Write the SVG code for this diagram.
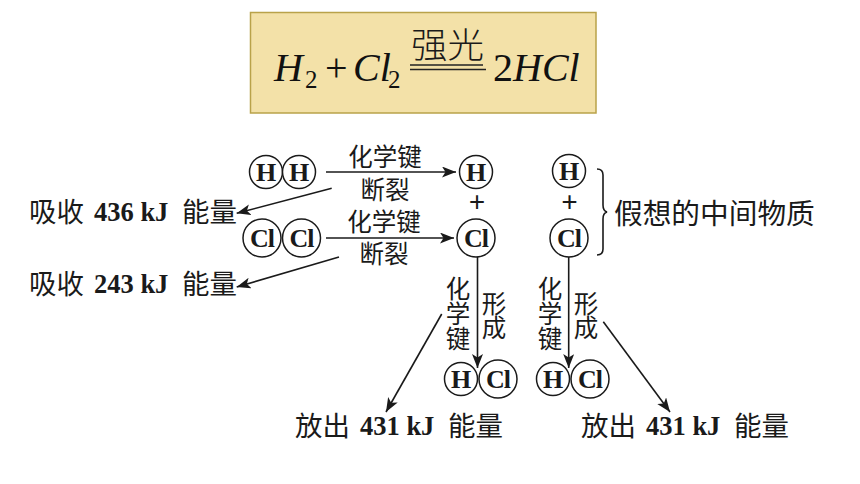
<svg xmlns="http://www.w3.org/2000/svg" width="860" height="484" viewBox="0 0 860 484">
<style>
.a{fill:none;stroke:#1a1a1a;stroke-width:1.6}
.c{fill:#fff;stroke:#1a1a1a;stroke-width:1.5}
.l{font-family:"Liberation Serif",serif;font-weight:bold;fill:#1a1a1a;text-anchor:middle}
.at{font-size:26px}
.cl{letter-spacing:-1px}
.pl{font-size:29px}
.z{font-family:"Noto Sans CJK SC",sans-serif;fill:#1a1a1a}
.s{font-size:24.500px;text-anchor:middle}
.b{font-size:27.500px}
.n{font-family:"Liberation Serif",serif;font-weight:bold;font-size:26.500px;fill:#1a1a1a}
.f{font-family:"Liberation Serif",serif;font-size:40px;fill:#111}
.i{font-style:italic}
.u{font-size:25px}
</style>
<defs><marker id="h" markerUnits="userSpaceOnUse" markerWidth="15" markerHeight="12" refX="14" refY="5.5" orient="auto"><path d="M0 0L14 5.5L0 11L3.5 5.5Z" fill="#1a1a1a"/></marker></defs>
<rect width="860" height="484" fill="#fff"/>
<g id="equation">
<rect x="250.5" y="12.5" width="345.500" height="100.500" fill="#f3e1a8" stroke="#b9a24a" stroke-width="1.500"/>
<text class="f i" x="274" y="81">H</text><text class="f u" x="305" y="88">2</text>
<text class="f" x="325" y="81">+</text><text class="f i" x="353" y="81">Cl</text><text class="f u" x="388" y="88">2</text>
<text class="z" x="411" y="58" font-size="35" font-weight="300" fill="#333" textLength="73" lengthAdjust="spacingAndGlyphs">强光</text>
<path d="M410 65H483M410 69.500H486" stroke="#222" stroke-width="1.600" fill="none"/>
<text class="f" x="493" y="81">2</text><text class="f i" x="513" y="81">HCl</text>
</g>
<g id="connectors">
<path class="a" marker-end="url(#h)" d="M326 172H456"/>
<path class="a" marker-end="url(#h)" d="M331.700 188.300L236.700 213.300"/>
<path class="a" marker-end="url(#h)" d="M326 238H454"/>
<path class="a" marker-end="url(#h)" d="M339 257L236.700 287"/>
<path class="a" marker-end="url(#h)" d="M477.500 257V368"/>
<path class="a" marker-end="url(#h)" d="M568.700 257V368"/>
<path class="a" marker-end="url(#h)" d="M441.700 314L386 412"/>
<path class="a" marker-end="url(#h)" d="M603.300 321.700L670 412"/>
<path class="a" d="M597 169Q603 169 603 175V205Q603 211 607 212Q603 213 603 219V249Q603 255 597 255"/>
</g>
<g id="h2"><circle class="c" cx="266" cy="172" r="16.500"/><circle class="c" cx="299" cy="172" r="16.500"/><text class="l at" x="266" y="181">H</text><text class="l at" x="299" y="181">H</text></g>
<g id="h-atom"><circle class="c" cx="476" cy="172" r="16.500"/><text class="l at" x="476" y="181">H</text></g>
<g id="cl2"><circle class="c" cx="262" cy="238" r="19"/><circle class="c" cx="301.500" cy="238" r="19"/><text class="l at cl" x="262" y="247">Cl</text><text class="l at cl" x="301.500" y="247">Cl</text></g>
<g id="cl-atom"><circle class="c" cx="476" cy="238" r="19"/><text class="l at cl" x="476" y="247">Cl</text></g>
<g id="plus1"><text class="l pl" x="477" y="212">+</text></g>
<g id="h-mid"><circle class="c" cx="569" cy="171" r="16.500"/><text class="l at" x="569" y="180">H</text></g>
<g id="plus2"><text class="l pl" x="569.500" y="212">+</text></g>
<g id="cl-mid"><circle class="c" cx="569" cy="238" r="19"/><text class="l at cl" x="569" y="247">Cl</text></g>
<g id="hcl1"><circle class="c" cx="461" cy="379" r="16.500"/><circle class="c" cx="498" cy="379" r="19"/><text class="l at" x="461" y="388">H</text><text class="l at cl" x="498" y="388">Cl</text></g>
<g id="hcl2"><circle class="c" cx="553" cy="379" r="16.500"/><circle class="c" cx="590" cy="379" r="19"/><text class="l at" x="553" y="388">H</text><text class="l at cl" x="590" y="388">Cl</text></g>
<g id="labels">
<text class="z s" x="385" y="166">化学键</text><text class="z s" x="385" y="199">断裂</text>
<text class="z s" x="384" y="231">化学键</text><text class="z s" x="384" y="263">断裂</text>
<text class="z s"><tspan x="458" y="298">化</tspan><tspan x="458" y="323">学</tspan><tspan x="458" y="348">键</tspan></text>
<text class="z s"><tspan x="494" y="313">形</tspan><tspan x="494" y="337">成</tspan></text>
<text class="z s"><tspan x="550" y="298">化</tspan><tspan x="550" y="323">学</tspan><tspan x="550" y="348">键</tspan></text>
<text class="z s"><tspan x="586" y="313">形</tspan><tspan x="586" y="337">成</tspan></text>
<text class="z" x="614" y="224" font-size="28.700">假想的中间物质</text>
<text class="z b" x="29" y="222">吸收</text><text class="n" x="94" y="221">436 kJ</text><text class="z b" x="182" y="222">能量</text>
<text class="z b" x="29" y="294">吸收</text><text class="n" x="94" y="293">243 kJ</text><text class="z b" x="182" y="294">能量</text>
<text class="z b" x="295" y="436">放出</text><text class="n" x="360" y="435">431 kJ</text><text class="z b" x="448" y="436">能量</text>
<text class="z b" x="581" y="436">放出</text><text class="n" x="646" y="435">431 kJ</text><text class="z b" x="734" y="436">能量</text>
</g>
</svg>
